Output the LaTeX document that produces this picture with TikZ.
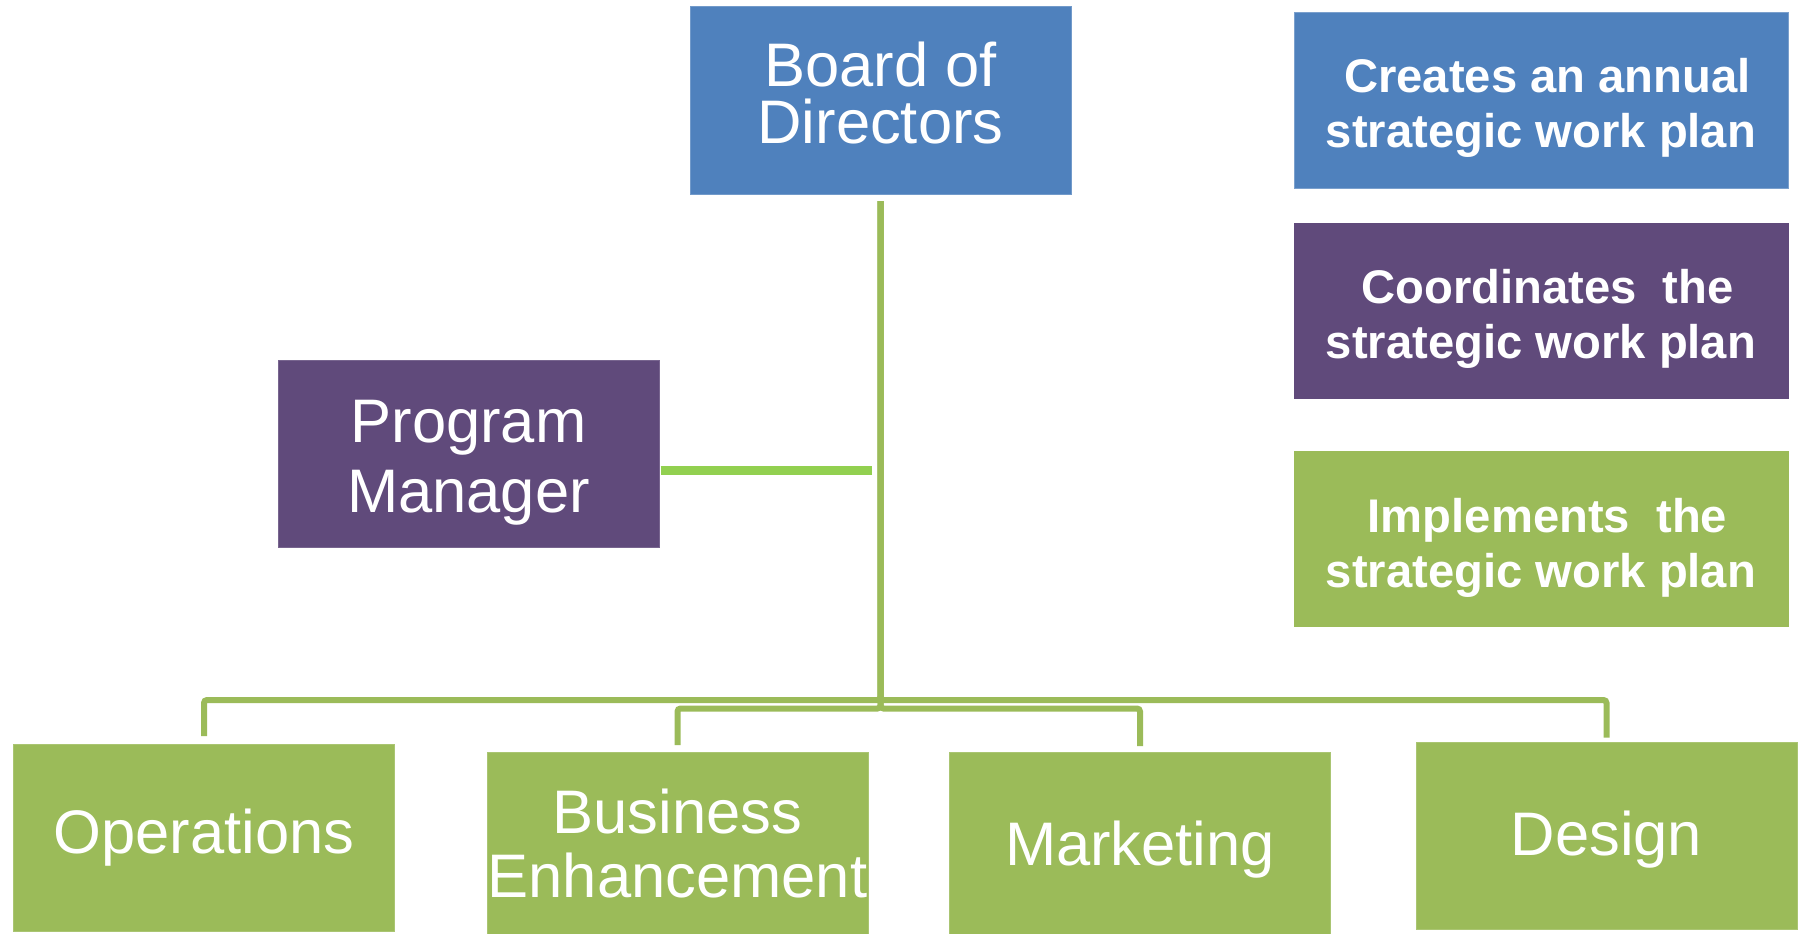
\documentclass[tikz,border=0pt]{standalone}
\usepackage{fontspec}
\setmainfont{Liberation Sans}
\definecolor{orgblue}{RGB}{79,129,189}
\definecolor{orgpurple}{RGB}{96,74,123}
\definecolor{orggreen}{RGB}{155,187,89}
\definecolor{linkgreen}{RGB}{146,208,80}
% struts that fix the vertical extent of a node's text
\newcommand\lifttop[1]{\rule{0pt}{#1pt}}
\newcommand\dropbottom[1]{\rule[-#1pt]{0pt}{#1pt}}
\begin{document}
\begin{tikzpicture}[x=1pt,y=-1pt,
  box/.style={rectangle, inner sep=0pt, outer sep=0pt, text=white, align=center,
    line width=1pt, minimum width=381pt, minimum height=187pt},
  unit/.style={box, fill=orggreen, draw=orggreen!85!white,
    font=\fontsize{61.5}{64}\selectfont},
  role/.style={box, minimum width=494pt, minimum height=175pt,
    font=\fontsize{47.2}{55}\selectfont\bfseries},
  conn/.style={draw=orggreen, line width=6pt, rounded corners=3pt},
  pmlink/.style={draw=linkgreen, line width=9pt}
]
\useasboundingbox (0,0) rectangle (1799,934);
\clip (0,0) rectangle (1799,934);

% top of the chart
\node[box, fill=orgblue, draw=orgblue!80!white, font=\fontsize{61.5}{57}\selectfont]
  (bod) at (880.5,100.5) {\lifttop{46}Board of\\Directors\dropbottom{17}};
\node[box, fill=orgpurple, draw=orgpurple!85!white, font=\fontsize{61.5}{70}\selectfont]
  (pm) at (468.5,453.5) {\lifttop{61}Program\\Manager\dropbottom{14}};

% the four units
\node[unit] (ops) at (204,837.5) {\lifttop{46}Operations\dropbottom{15}};
\node[unit] (bus) at (677.5,845.5) {\lifttop{46}Business\\Enhancement\dropbottom{7}};
\node[unit] (mkt) at (1140,845.5) {\lifttop{54}Marketing\dropbottom{15}};
\node[unit] (des) at (1606.5,836) {\lifttop{53}Design\dropbottom{15}};

% legend of roles
\node[role, fill=orgblue, draw=orgblue!75!white] (create) at (1541,100.5)
  {\lifttop{49}\hspace*{13pt}Creates an annual\\strategic work plan\dropbottom{11}};
\node[role, fill=orgpurple, draw=orgpurple] (coord) at (1541,311)
  {\lifttop{50}\hspace*{13pt}Coordinates\ \ the\\strategic work plan\dropbottom{11}};
\node[role, fill=orggreen, draw=orggreen] (impl) at (1541,539)
  {\lifttop{52}\hspace*{13pt}Implements\ \ the\\strategic work plan\dropbottom{11}};

% connector levels
\coordinate (hi) at (0,700);
\coordinate (lo) at (0,708.5);
\coordinate (pmlvl) at (0,470.5);

% board to units
\draw[conn, shorten <=7pt, shorten >=8pt] (bod.south) -- (bod.south |- hi) -| (ops.north);
\draw[conn, shorten <=7pt, shorten >=5pt] (bod.south) -- (bod.south |- hi) -| (des.north);
\draw[conn, shorten <=7pt, shorten >=7pt] (bod.south) -- (bod.south |- lo) -| (bus.north);
\draw[conn, shorten <=7pt, shorten >=6pt] (bod.south) -- (bod.south |- lo) -| (mkt.north);

% program manager to the trunk
\draw[pmlink, shorten <=1.5pt, shorten >=8.5pt] (pm.east |- pmlvl) -- (bod.south |- pmlvl);
\end{tikzpicture}
\end{document}
